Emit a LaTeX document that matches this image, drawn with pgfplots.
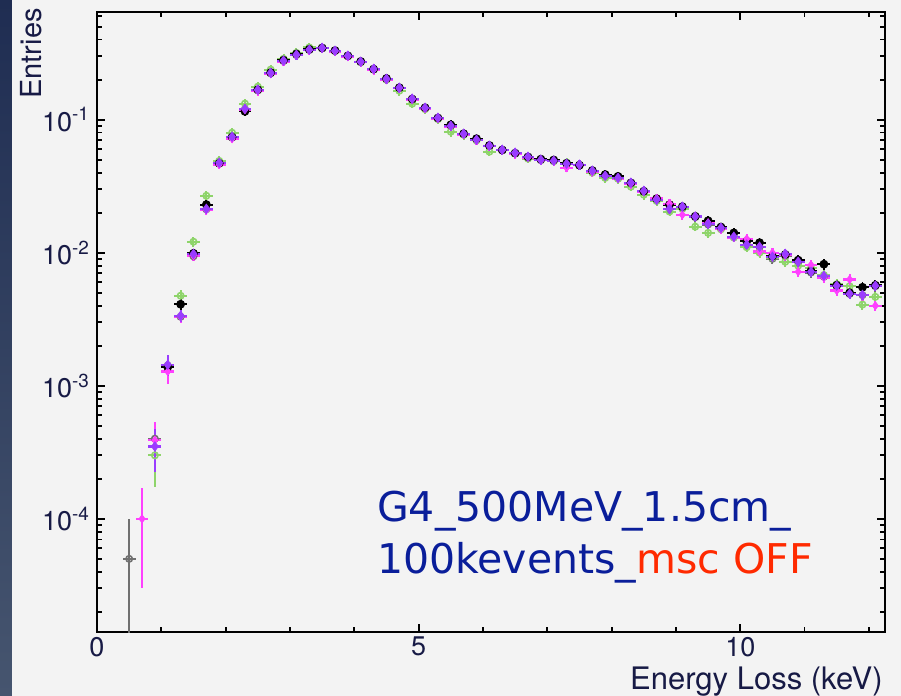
\documentclass[border=0pt]{standalone}
\usepackage{pgfplots}
\usepackage{pgfplotstable}
\pgfplotsset{compat=1.18}
\usepackage{fontspec}
\setmainfont{TeX Gyre Heros}
\newfontfamily\comic{DejaVu Sans}
\definecolor{purpleP}{HTML}{9A3CFF}
\definecolor{magM}{HTML}{FF40FF}
\definecolor{greenG}{HTML}{8ED46A}
\definecolor{grayA}{HTML}{707070}
\definecolor{txtblue}{HTML}{0A1E9A}
\definecolor{txtred}{HTML}{FF2A00}
\definecolor{bgc}{HTML}{F3F3F3}
\definecolor{labc}{HTML}{171A45}
\definecolor{stripT}{HTML}{1F2D52}
\definecolor{stripB}{HTML}{46556F}

% purple series
\pgfplotstableread{
x y e
0.9 3.5e-4 0.36
1.1 1.44e-3 0.18
1.3 3.36e-3 0.10
1.5 9.8e-3 0.08
1.7 0.0214 0.08
1.9 0.0475 0.08
2.1 0.0745 0.08
2.3 0.121 0.08
2.5 0.168 0.08
2.7 0.225 0.08
2.9 0.278 0.08
3.1 0.308 0.08
3.3 0.336 0.08
3.5 0.347 0.08
3.7 0.330 0.08
3.9 0.303 0.08
4.1 0.273 0.08
4.3 0.241 0.08
4.5 0.203 0.08
4.7 0.174 0.08
4.9 0.144 0.08
5.1 0.123 0.08
5.3 0.1035 0.08
5.5 0.0901 0.08
5.7 0.0785 0.08
5.9 0.0708 0.08
6.1 0.0638 0.08
6.3 0.0595 0.08
6.5 0.0565 0.08
6.7 0.0527 0.08
6.9 0.0500 0.08
7.1 0.0492 0.08
7.3 0.0467 0.08
7.5 0.0459 0.08
7.7 0.0414 0.08
7.9 0.0379 0.08
8.1 0.0366 0.08
8.3 0.0336 0.08
8.5 0.0292 0.08
8.7 0.0250 0.08
8.9 0.0214 0.08
9.1 0.0222 0.08
9.3 0.0187 0.08
9.5 0.0165 0.08
9.7 0.0154 0.08
9.9 0.0132 0.08
10.1 0.0115 0.08
10.3 0.0111 0.08
10.5 0.00933 0.09
10.7 0.00982 0.09
10.9 0.00855 0.09
11.1 0.00719 0.09
11.3 0.00671 0.09
11.5 0.00565 0.09
11.7 0.00492 0.09
11.9 0.00483 0.09
12.1 0.00565 0.09
}\tabP

% black series
\pgfplotstableread{
x y e
1.1 1.38e-3 0.17
1.3 4.1e-3 0.10
1.5 9.9e-3 0.08
1.7 0.0230 0.08
1.9 0.0470 0.08
2.1 0.0740 0.08
2.3 0.1155 0.08
2.5 0.168 0.08
2.7 0.226 0.08
2.9 0.280 0.08
3.1 0.312 0.08
3.3 0.338 0.08
3.5 0.346 0.08
3.7 0.331 0.08
3.9 0.302 0.08
4.1 0.274 0.08
4.3 0.240 0.08
4.5 0.204 0.08
4.7 0.174 0.08
4.9 0.143 0.08
5.1 0.123 0.08
5.3 0.103 0.08
5.5 0.0915 0.08
5.7 0.0785 0.08
5.9 0.0720 0.08
6.1 0.0640 0.08
6.3 0.0592 0.08
6.5 0.0560 0.08
6.7 0.0525 0.08
6.9 0.0505 0.08
7.1 0.0498 0.08
7.3 0.0470 0.08
7.5 0.0455 0.08
7.7 0.0415 0.08
7.9 0.0387 0.08
8.1 0.0375 0.08
8.3 0.0335 0.08
8.5 0.0290 0.08
8.7 0.0255 0.08
8.9 0.0230 0.08
9.1 0.0222 0.08
9.3 0.0188 0.08
9.5 0.0174 0.08
9.7 0.0156 0.08
9.9 0.0141 0.08
10.1 0.0122 0.08
10.3 0.0119 0.08
10.5 0.0094 0.09
10.7 0.0097 0.09
10.9 0.0088 0.09
11.1 0.0073 0.09
11.3 0.0082 0.09
11.5 0.0057 0.09
11.7 0.0050 0.09
11.9 0.0055 0.09
12.1 0.0057 0.09
}\tabK

% green series
\pgfplotstableread{
x y e
0.9 3.0e-4 0.42
1.1 1.40e-3 0.18
1.3 4.75e-3 0.10
1.5 0.0121 0.08
1.7 0.0268 0.08
1.9 0.0490 0.08
2.1 0.0798 0.08
2.3 0.132 0.08
2.5 0.177 0.08
2.7 0.238 0.08
2.9 0.287 0.08
3.1 0.318 0.08
3.3 0.349 0.08
3.5 0.346 0.08
3.7 0.330 0.08
3.9 0.300 0.08
4.1 0.270 0.08
4.3 0.238 0.08
4.5 0.200 0.08
4.7 0.165 0.08
4.9 0.132 0.08
5.1 0.120 0.08
5.3 0.101 0.08
5.5 0.0812 0.08
5.7 0.0770 0.08
5.9 0.0700 0.08
6.1 0.0575 0.08
6.3 0.0590 0.08
6.5 0.0560 0.08
6.7 0.0510 0.08
6.9 0.0505 0.08
7.1 0.0490 0.08
7.3 0.0475 0.08
7.5 0.0455 0.08
7.7 0.0400 0.08
7.9 0.0365 0.08
8.1 0.0360 0.08
8.3 0.0314 0.08
8.5 0.0273 0.08
8.7 0.0245 0.08
8.9 0.0204 0.08
9.1 0.0215 0.08
9.3 0.0157 0.08
9.5 0.0141 0.08
9.7 0.0150 0.08
9.9 0.0130 0.08
10.1 0.0110 0.08
10.3 0.0100 0.08
10.5 0.0092 0.09
10.7 0.00855 0.09
10.9 0.0080 0.09
11.1 0.0077 0.09
11.3 0.0068 0.09
11.5 0.0058 0.09
11.7 0.0056 0.09
11.9 0.00408 0.09
12.1 0.00466 0.09
}\tabG

% magenta series
\pgfplotstableread{
x y e
0.7 1.0e-4 0.70
0.9 3.9e-4 0.37
1.1 1.28e-3 0.20
1.3 3.3e-3 0.10
1.5 9.5e-3 0.08
1.7 0.0210 0.08
1.9 0.0460 0.08
2.1 0.0720 0.08
2.3 0.119 0.08
2.5 0.165 0.08
2.7 0.222 0.08
2.9 0.274 0.08
3.1 0.305 0.08
3.3 0.333 0.08
3.5 0.344 0.08
3.7 0.326 0.08
3.9 0.298 0.08
4.1 0.270 0.08
4.3 0.237 0.08
4.5 0.200 0.08
4.7 0.172 0.08
4.9 0.142 0.08
5.1 0.121 0.08
5.3 0.102 0.08
5.5 0.0890 0.08
5.7 0.0775 0.08
5.9 0.0700 0.08
6.1 0.0632 0.08
6.3 0.0590 0.08
6.5 0.0555 0.08
6.7 0.0520 0.08
6.9 0.0495 0.08
7.1 0.0488 0.08
7.3 0.0436 0.08
7.5 0.0455 0.08
7.7 0.0405 0.08
7.9 0.0377 0.08
8.1 0.0362 0.08
8.3 0.0330 0.08
8.5 0.0288 0.08
8.7 0.0256 0.08
8.9 0.0234 0.08
9.1 0.0193 0.08
9.3 0.0188 0.08
9.5 0.0168 0.08
9.7 0.0150 0.08
9.9 0.0130 0.08
10.1 0.0127 0.08
10.3 0.0102 0.08
10.5 0.0100 0.09
10.7 0.0096 0.09
10.9 0.0072 0.09
11.1 0.0081 0.09
11.3 0.0065 0.09
11.5 0.0052 0.09
11.7 0.0063 0.09
11.9 0.0048 0.09
12.1 0.0040 0.09
}\tabM

% gray series
\pgfplotstableread{
x y e
0.5 5.0e-5 0.99
0.9 4.0e-4 0.30
1.1 1.42e-3 0.15
1.3 3.3e-3 0.10
1.5 9.4e-3 0.08
1.7 0.0212 0.08
1.9 0.0470 0.08
2.1 0.0738 0.08
2.3 0.120 0.08
2.5 0.166 0.08
2.7 0.223 0.08
2.9 0.276 0.08
3.1 0.306 0.08
3.3 0.334 0.08
3.5 0.345 0.08
3.7 0.328 0.08
3.9 0.301 0.08
4.1 0.271 0.08
4.3 0.239 0.08
4.5 0.201 0.08
4.7 0.172 0.08
4.9 0.143 0.08
5.1 0.122 0.08
5.3 0.1025 0.08
5.5 0.0893 0.08
5.7 0.0778 0.08
5.9 0.0702 0.08
6.1 0.0632 0.08
6.3 0.0590 0.08
6.5 0.0560 0.08
6.7 0.0522 0.08
6.9 0.0496 0.08
7.1 0.0488 0.08
7.3 0.0463 0.08
7.5 0.0455 0.08
7.7 0.0410 0.08
7.9 0.0376 0.08
8.1 0.0362 0.08
8.3 0.0333 0.08
8.5 0.0289 0.08
8.7 0.0248 0.08
8.9 0.0212 0.08
9.1 0.0215 0.08
9.3 0.0185 0.08
9.5 0.0163 0.08
9.7 0.0152 0.08
9.9 0.0131 0.08
10.1 0.0114 0.08
10.3 0.0110 0.08
10.5 0.0090 0.09
10.7 0.0094 0.09
10.9 0.0085 0.09
11.1 0.0071 0.09
11.3 0.0066 0.09
11.5 0.0056 0.09
11.7 0.0049 0.09
11.9 0.0048 0.09
12.1 0.0056 0.09
}\tabA

\begin{document}
\begin{tikzpicture}
\path[use as bounding box] (-48.5pt,-32pt) rectangle (402pt,316pt);
\fill[bgc] (-48.5pt,-32pt) rectangle (402pt,316pt);
\shade[top color=stripT, bottom color=stripB] (-48.5pt,-32pt) rectangle (-42.5pt,316pt);
\begin{axis}[
  at={(0pt,0pt)}, anchor=south west,
  scale only axis, width=394pt, height=310pt,
  ymode=log,
  xmin=0, xmax=12.25, ymin=1.41e-5, ymax=0.645,
  axis line style={line width=1pt, black},
  xtick={0,5,10}, xticklabels={0,5,10},
  minor xtick={1,2,3,4,6,7,8,9,11,12},
  ytick={1e-4,1e-3,1e-2,1e-1},
  yticklabels={10\textsuperscript{-4},10\textsuperscript{-3},10\textsuperscript{-2},10\textsuperscript{-1}},
  minor ytick={2e-5,3e-5,4e-5,5e-5,6e-5,7e-5,8e-5,9e-5,
               2e-4,3e-4,4e-4,5e-4,6e-4,7e-4,8e-4,9e-4,
               2e-3,3e-3,4e-3,5e-3,6e-3,7e-3,8e-3,9e-3,
               2e-2,3e-2,4e-2,5e-2,6e-2,7e-2,8e-2,9e-2,
               2e-1,3e-1,4e-1,5e-1,6e-1},
  tick align=inside,
  major tick length=4pt, minor tick length=2.5pt,
  every tick/.style={black, line width=0.9pt},
  ticklabel style={font=\fontsize{13.5}{13.5}\selectfont, text=labc},
  xticklabel style={yshift=1pt},
  xlabel={Energy Loss (keV)},
  xlabel style={at={(axis description cs:0.9975,-0.056)}, anchor=north east, inner sep=0pt,
    font=\fontsize{15.5}{15.5}\selectfont, text=labc},
  ylabel={Entries},
  ylabel style={at={(axis description cs:-0.0977,1.0065)}, anchor=north east, inner sep=0pt,
    font=\fontsize{14.5}{14.5}\selectfont, text=labc},
  axis background/.style={fill=bgc},
  clip=true,
]
\addplot[only marks, mark=o, mark size=1.6pt, color=grayA, mark options={line width=0.8pt},
  error bars/.cd, x dir=both, x fixed=0.1, y dir=both, y explicit relative,
  error bar style={line width=1pt}, error mark=none]
  table[x=x, y=y, y error=e] {\tabA};
\addplot[only marks, mark=o, mark size=1.6pt, color=greenG, mark options={line width=0.8pt},
  error bars/.cd, x dir=both, x fixed=0.1, y dir=both, y explicit relative,
  error bar style={line width=1pt}, error mark=none]
  table[x=x, y=y, y error=e] {\tabG};
\addplot[only marks, mark=none, color=black,
  error bars/.cd, x dir=both, x fixed=0.1, y dir=both, y explicit relative,
  error bar style={line width=0.9pt}, error mark=none]
  table[x=x, y=y, y error=e] {\tabK};
\addplot[only marks, mark=diamond*, mark size=2pt, color=magM,
  error bars/.cd, x dir=both, x fixed=0.1, y dir=both, y explicit relative,
  error bar style={line width=1.1pt}, error mark=none]
  table[x=x, y=y, y error=e] {\tabM};
\addplot[only marks, mark=diamond*, mark size=2.3pt, color=purpleP,
  error bars/.cd, x dir=both, x fixed=0.1, y dir=both, y explicit relative,
  error bar style={line width=1.1pt}, error mark=none]
  table[x=x, y=y, y error=e] {\tabP};
\node[anchor=base west, inner sep=0pt, font=\comic\fontsize{20.5}{20.5}\selectfont, text=txtblue]
  at (axis cs:4.35,9.5e-5) {G4\_500MeV\_1.5cm\_};
\node[anchor=base west, inner sep=0pt, font=\comic\fontsize{20.5}{20.5}\selectfont, text=txtblue]
  at (axis cs:4.35,3.9e-5) {100kevents\_\textcolor{txtred}{msc OFF}};
\end{axis}
\end{tikzpicture}
\end{document}
